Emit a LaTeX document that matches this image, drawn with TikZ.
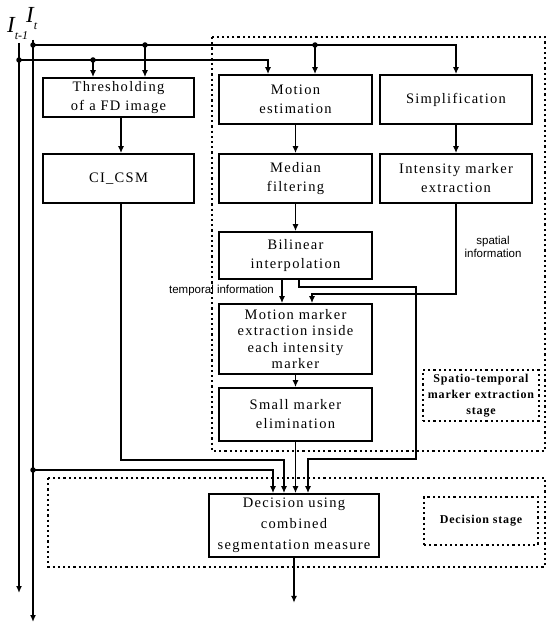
\documentclass[tikz,border=0pt]{standalone}
\usepackage{fontspec}
\setmainfont{Liberation Serif}
\newfontfamily\boxfont[LetterSpace=9]{Liberation Serif}
\newfontfamily\stagefont[LetterSpace=7]{Liberation Serif}
\newfontfamily\infofont{Liberation Sans}
\usetikzlibrary{arrows.meta, positioning}
\tikzstyle{block}     = [draw, line width=1.7pt, align=center, inner sep=0pt, font=\boxfont\fontsize{14.5}{19}\selectfont]
\tikzstyle{edge}      = [line width=1.4pt]
\tikzstyle{diredge}   = [line width=1.4pt, -{Latex[length=7pt, width=6pt]}]
\tikzstyle{stagebox}  = [draw, line width=2pt, dash pattern=on 2.2pt off 3pt]
\tikzstyle{stagelabel}= [stagebox, align=center, inner sep=0pt, font=\stagefont\bfseries\fontsize{12}{16}\selectfont]
\tikzstyle{info}      = [align=center, inner sep=0pt, font=\infofont\fontsize{11.5}{13.5}\selectfont]
\tikzstyle{junction}  = [circle, fill, inner sep=0pt, minimum size=5.5pt]
\tikzstyle{seq}       = [inner sep=0pt, anchor=base west, font=\itshape\fontsize{23}{23}\selectfont]

\begin{document}
\begin{tikzpicture}[x=1pt, y=-1pt]
\useasboundingbox (0,0) rectangle (546,623);

% stage frames
\draw[stagebox] (212,37) rectangle (545,451);
\draw[stagebox] (48,478) rectangle (545,567);
\node[stagelabel, minimum width=116pt, minimum height=51pt] (STlabel) at (481,395.5) {Spatio-temporal\\marker extraction\\stage};
\node[stagelabel, minimum width=114pt, minimum height=48pt] (DSlabel) at (481,521) {Decision stage};

% input sequences
\node[seq] (Iprev) at (7,33) {I\raisebox{-7pt}{\fontsize{12}{12}\selectfont t-1}};
\node[seq] (Icur) at (26,23) {I\raisebox{-7pt}{\fontsize{12}{12}\selectfont t}};
\coordinate (Iprevtop) at (19,43);
\coordinate (Iprevend) at (19,593);
\coordinate (Icurtop)  at (33,40);
\coordinate (Icurend)  at (33,622);

% blocks
\node[block, minimum width=151pt, minimum height=39pt] (thresh) at (118.5,97.5) {Thresholding\\of a FD image};
\node[block, minimum width=151pt, minimum height=49pt] (cicsm)  at (118.5,178.5) {CI\_CSM};
\node[block, minimum width=153pt, minimum height=49pt] (motion) at (295.5,99.5) {Motion\\estimation};
\node[block, minimum width=152pt, minimum height=49pt] (simpl)  at (456,99.5) {Simplification};
\node[block, minimum width=153pt, minimum height=49pt] (median) at (295.5,178.5) {Median\\filtering};
\node[block, minimum width=152pt, minimum height=49pt] (intens) at (456,178.5) {Intensity marker\\extraction};
\node[block, minimum width=153pt, minimum height=47pt] (bilin)  at (295.5,255.5) {Bilinear\\interpolation};
\node[block, minimum width=153pt, minimum height=70pt, font=\boxfont\fontsize{14.5}{16.5}\selectfont] (mmark) at (295.5,339) {Motion marker\\extraction inside\\each intensity\\marker};
\node[block, minimum width=153pt, minimum height=53pt] (small)  at (295.5,414.5) {Small marker\\elimination};
\node[block, minimum width=170pt, minimum height=63pt, font=\boxfont\fontsize{14.5}{21}\selectfont] (decis) at (294,525.5) {Decision using\\combined\\segmentation measure};

% labels
\node[info] (tinfo) at (221.5,291) {temporal information};
\node[info] (sinfo) at (493,247) {spatial\\information};

% junctions
\node[junction] (J1) at (33,45) {};
\node[junction] (J2) at (19,60) {};
\node[junction] (J3) at (145,45) {};
\node[junction] (J4) at (315,45) {};
\node[junction] (J5) at (93,60) {};
\node[junction] (J6) at (33,470) {};
\coordinate (bend) at (416,459);

% inputs
\draw[diredge] (Icurtop) -- (Icurend);
\draw[diredge] (Iprevtop) -- (Iprevend);
\draw[diredge] (J1.center) -| (simpl.north);
\draw[diredge] (J3.center) -- (J3.center |- thresh.north);
\draw[diredge] (J4.center) -- (J4.center |- motion.north);
\draw[diredge] (J2.center) -| ([xshift=-27.5pt]motion.north);
\draw[diredge] (J5.center) -- (J5.center |- thresh.north);

% processing chain
\draw[diredge] ([xshift=2.5pt]thresh.south) -- ([xshift=2.5pt]cicsm.north);
\draw[diredge] (motion) -- (median);
\draw[diredge] (median) -- (bilin);
\draw[diredge] (simpl) -- (intens);
\draw[diredge] ([xshift=-13.5pt]bilin.south) -- ([xshift=-13.5pt]mmark.north);
\draw[diredge] (intens.south) -- ++(0,90) -| ([xshift=16.5pt]mmark.north);
\draw[diredge] (mmark) -- (small);

% into decision
\draw[diredge] (J6.center) -| ([xshift=-21pt]decis.north);
\draw[diredge] ([xshift=2.5pt]cicsm.south) -- ++(0,256) -| ([xshift=-10pt]decis.north);
\draw[diredge] (small.south) -- (small.south |- decis.north);
\draw[diredge] ([xshift=3.5pt]bilin.south) -- ++(0,7) -| (bend) -| ([xshift=14pt]decis.north);
\draw[diredge] (decis.south) -- ++(0,45);

\end{tikzpicture}
\end{document}
